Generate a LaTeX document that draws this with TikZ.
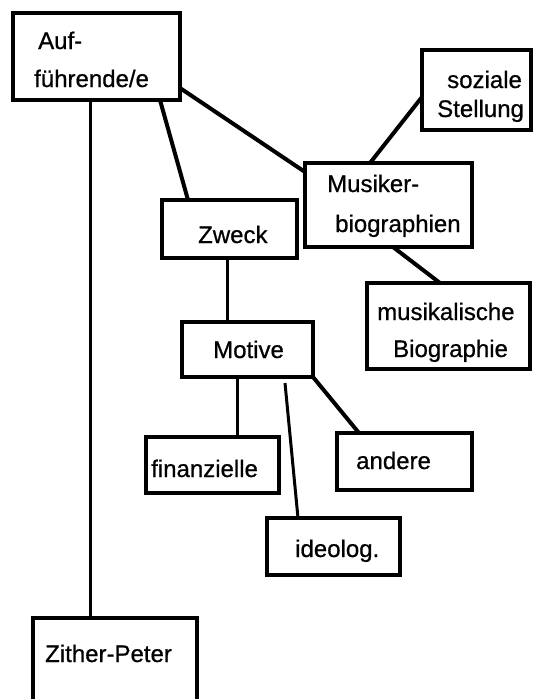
\documentclass[tikz,border=0pt]{standalone}
\usepackage{fontspec}
\setmainfont{Liberation Sans}
\newfontfamily\labelfont[FakeBold=0.7]{Liberation Sans}
\begin{document}
\begin{tikzpicture}[x=1pt,y=-1pt,
  box/.style={draw, line width=3.2pt, rectangle, inner sep=0pt, outer sep=0pt},
  lbl/.style={anchor=base west, inner sep=0pt, font=\labelfont\fontsize{24}{28}\selectfont},
  link/.style={line width=3pt},
  slant/.style={line width=4pt}]
  % page
  \clip (0,0) rectangle (534,699);
  \fill[white] (0,0) rectangle (534,699);

  % boxes
  \node[box, minimum width=167pt, minimum height=87pt]  (auf)    at (96.5,56.5)  {};
  \node[box, minimum width=109pt, minimum height=80pt]  (soz)    at (476.5,90)   {};
  \node[box, minimum width=167pt, minimum height=84pt]  (mus)    at (388.5,205)  {};
  \node[box, minimum width=135pt, minimum height=58pt]  (zweck)  at (229.5,229)  {};
  \node[box, minimum width=131pt, minimum height=55pt]  (motive) at (247.5,349.5){};
  \node[box, minimum width=163pt, minimum height=86pt]  (mbio)   at (448.5,326)  {};
  \node[box, minimum width=133pt, minimum height=56pt]  (fin)    at (212.5,465)  {};
  \node[box, minimum width=135pt, minimum height=57pt]  (andere) at (404.5,461.5){};
  \node[box, minimum width=133pt, minimum height=57pt]  (ideo)   at (333.5,546.5){};
  \node[box, minimum width=164pt, minimum height=102pt] (zither) at (115,669)    {};

  % labels
  \node[lbl] (tauf1) at (38,49)  {Auf-};
  \node[lbl] (tauf2) at (34,87)  {führende/e};
  \node[lbl] (tsoz1) at (447,88) {soziale};
  \node[lbl] (tsoz2) at (437,117){Stellung};
  \node[lbl] (tmus1) at (327,192){Musiker-};
  \node[lbl] (tmus2) at (335,232){biographien};
  \node[lbl] (tzw)   at (198,243){Zweck};
  \node[lbl] (tmot)  at (213,358){Motive};
  \node[lbl] (tmb1)  at (377,320){musikalische};
  \node[lbl] (tmb2)  at (393,357){Biographie};
  \node[lbl] (tfin)  at (151,477){finanzielle};
  \node[lbl] (tand)  at (356,469){andere};
  \node[lbl] (tideo) at (295,557){ideolog.};
  \node[lbl] (tzith) at (45,662) {Zither-Peter};

  % connectors
  \draw[link]  ([xshift=77pt]auf.south west) -- ([xshift=57pt]zither.north west);
  \draw[slant] ([xshift=147pt]auf.south west) -- ([xshift=26pt]zweck.north west);
  \draw[slant] ([yshift=12pt]auf.south east) -- ([yshift=-9pt]mus.north west);
  \draw[slant] ([yshift=-47pt]soz.north west) -- ([xshift=65pt]mus.north west);
  \draw[slant] ([xshift=88pt]mus.south west) -- ([xshift=73pt]mbio.north west);
  \draw[link]  ([xshift=65pt]zweck.south west) -- ([xshift=45pt]motive.north west);
  \draw[link]  ([xshift=55pt]motive.south west) -- ([xshift=91pt]fin.north west);
  \draw[link]  ([xshift=103pt,yshift=-6pt]motive.south west) -- ([xshift=31pt]ideo.north west);
  \draw[slant] (motive.south east) -- ([xshift=22pt]andere.north west);
\end{tikzpicture}
\end{document}
